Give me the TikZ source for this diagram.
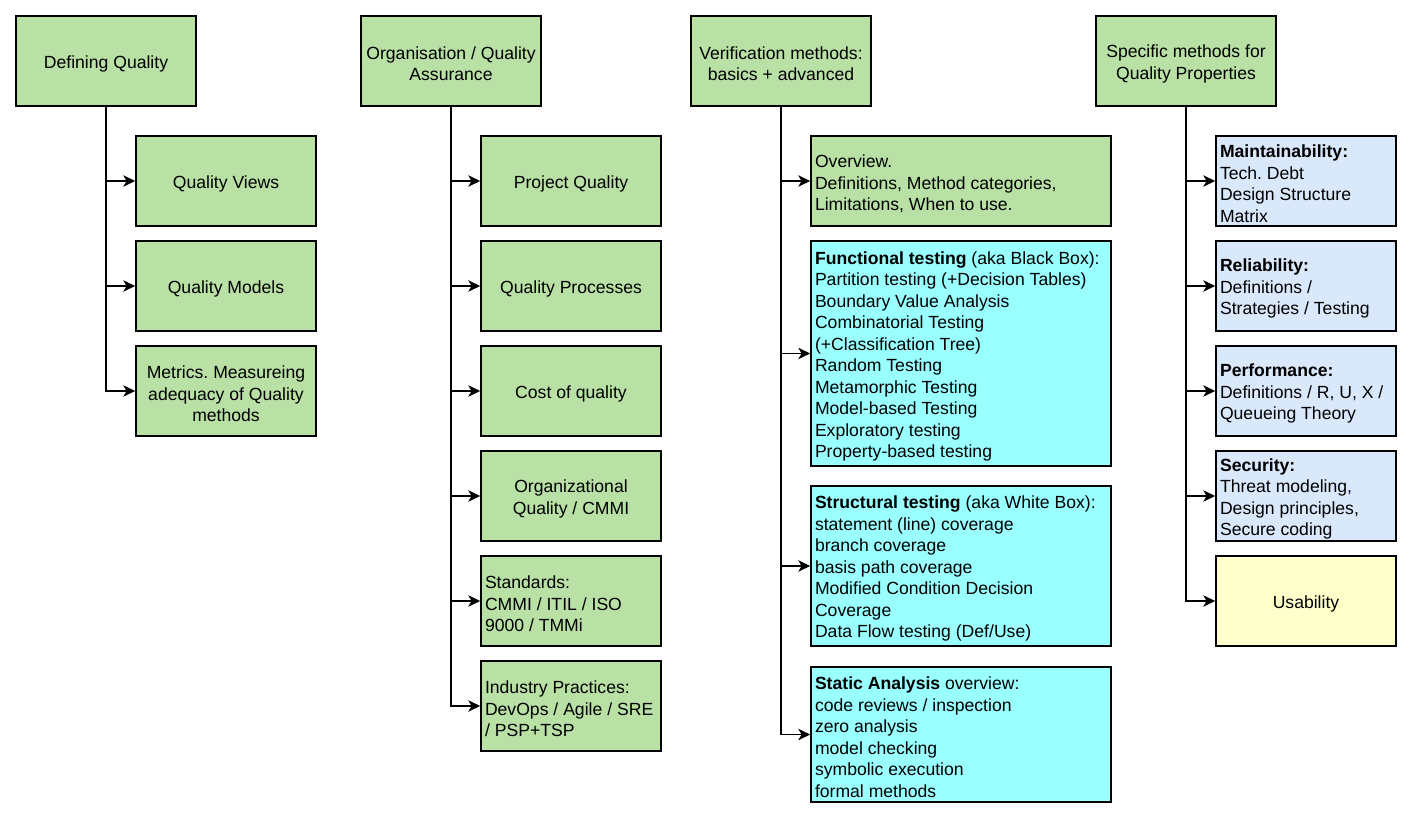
\documentclass[tikz,border=0pt]{standalone}
\usepackage{fontspec}
\setmainfont{Liberation Sans}
\frenchspacing
\usetikzlibrary{arrows.meta}
\definecolor{qgreen}{HTML}{B9E0A5}
\definecolor{qcyan}{HTML}{99FFFF}
\definecolor{qblue}{HTML}{DAE8FC}
\definecolor{qyellow}{HTML}{FFFFCC}

\begin{document}
\begin{tikzpicture}[x=0.75pt,y=-0.75pt,
    box/.style={draw=black, line width=1.1pt, minimum width=135pt, minimum height=67.5pt,
        text width=131pt, inner xsep=2pt, inner ysep=0pt, align=center,
        font=\fontsize{13.2}{16.1}\selectfont,
        execute at begin node={\spaceskip=0.278em\xspaceskip=0.278em\rule{0pt}{13.8pt}}},
    lbox/.style={box, align=left, text width=129pt, inner xsep=3pt},
    wide/.style={lbox, minimum width=225pt, text width=219pt},
    link/.style={line width=1.1pt, -{Stealth[length=9pt,width=8.5pt,inset=2.5pt]}}]
    \useasboundingbox (0,0) rectangle (1410,816);
    % column heads
    \node[box, fill=qgreen] (dq) at (106,61) {Defining Quality};
    \node[box, fill=qgreen] (qa) at (451,61) {Organisation / Quality\\Assurance};
    \node[box, fill=qgreen] (vm) at (781,61) {Verification methods:\\basics + advanced};
    \node[box, fill=qgreen] (sm) at (1186,61) {Specific methods for\\Quality Properties};
    % defining quality
    \foreach \y/\n/\t in {181/qviews/{Quality Views}, 286/qmodels/{Quality Models},
        391/qmetrics/{Metrics. Measureing\\adequacy of Quality\\methods}} {
        \node[box, fill=qgreen] (\n) at (226,\y) {\t};
        \draw[link] (dq.south) |- (\n.west);
    }
    % organisation / quality assurance
    \foreach \y/\n/\s/\t in {181/pq/box/{Project Quality}, 286/qp/box/{Quality Processes},
        391/coq/box/{Cost of quality}, 496/oq/box/{Organizational\\Quality / CMMI},
        601/std/lbox/{Standards:\\CMMI / ITIL / ISO\\9000 / TMMi},
        706/ip/lbox/{Industry Practices:\\DevOps / Agile / SRE\\/ PSP+TSP}} {
        \node[\s, fill=qgreen] (\n) at (571,\y) {\t};
        \draw[link] (qa.south) |- (\n.west);
    }
    % verification methods
    \node[wide, fill=qgreen] (ov) at (961,181)
        {Overview.\\Definitions, Method categories,\\Limitations, When to use.};
    \node[wide, fill=qcyan, minimum height=168.75pt] (ft) at (961,353.5)
        {\textbf{Functional testing} (aka Black Box):\\Partition testing (+Decision Tables)\\
         Boundary Value Analysis\\Combinatorial Testing\\(+Classification Tree)\\Random Testing\\
         Metamorphic Testing\\Model-based Testing\\Exploratory testing\\Property-based testing};
    \node[wide, fill=qcyan, minimum height=120pt] (st) at (961,566)
        {\textbf{Structural testing} (aka White Box):\\statement (line) coverage\\branch coverage\\
         basis path coverage\\Modified Condition Decision\\Coverage\\Data Flow testing (Def/Use)};
    \node[wide, fill=qcyan, minimum height=101.25pt] (sa) at (961,734.5)
        {\textbf{Static Analysis} overview:\\code reviews / inspection\\zero analysis\\model checking\\
         symbolic execution\\formal methods};
    \foreach \n in {ov, ft, st, sa}
        \draw[link] (vm.south) |- (\n.west);
    % quality properties
    \foreach \y/\n/\c/\t in {181/mt/qblue/{\textbf{Maintainability:}\\Tech. Debt\\Design Structure\\Matrix},
        286/rel/qblue/{\textbf{Reliability:}\\Definitions /\\Strategies / Testing},
        391/perf/qblue/{\textbf{Performance:}\\Definitions / R, U, X /\\Queueing Theory},
        496/sec/qblue/{\textbf{Security:}\\Threat modeling,\\Design principles,\\Secure coding}} {
        \node[lbox, fill=\c] (\n) at (1306,\y) {\t};
        \draw[link] (sm.south) |- (\n.west);
    }
    \node[box, fill=qyellow] (us) at (1306,601) {Usability};
    \draw[link] (sm.south) |- (us.west);
\end{tikzpicture}
\end{document}
